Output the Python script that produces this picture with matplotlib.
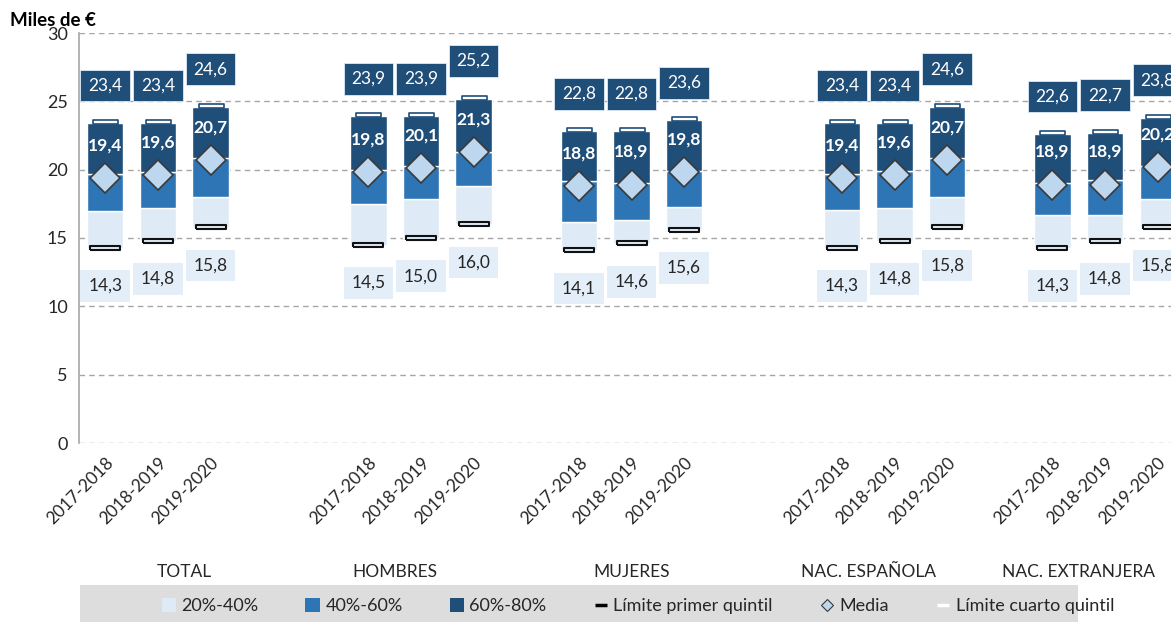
import matplotlib
matplotlib.use("Agg")
import matplotlib.pyplot as plt
from matplotlib.patches import Patch, Rectangle
from matplotlib.lines import Line2D
from matplotlib.transforms import blended_transform_factory
import numpy as np

plt.rcParams['font.family'] = ['Lato', 'DejaVu Sans']

# ---------------- data ----------------
groups = ["TOTAL", "HOMBRES", "MUJERES", "NAC. ESPAÑOLA", "NAC. EXTRANJERA"]
periods = ["2017-2018", "2018-2019", "2019-2020"]

# Límite primer quintil (P20)
q1 = [14.3, 14.8, 15.8,
      14.5, 15.0, 16.0,
      14.1, 14.6, 15.6,
      14.3, 14.8, 15.8,
      14.3, 14.8, 15.8]
# P40 (top of 20%-40% band)
q2 = [16.95, 17.2, 18.0,
      17.5, 17.85, 18.8,
      16.2, 16.35, 17.3,
      17.05, 17.2, 18.0,
      16.65, 16.7, 17.85]
# P60 (top of 40%-60% band)
q3 = [19.65, 19.85, 20.85,
      20.0, 20.25, 21.3,
      19.15, 19.0, 19.9,
      19.7, 19.9, 20.85,
      19.05, 19.25, 20.3]
# Límite cuarto quintil (P80)
q4 = [23.4, 23.4, 24.6,
      23.9, 23.9, 25.2,
      22.8, 22.8, 23.6,
      23.4, 23.4, 24.6,
      22.6, 22.7, 23.8]
# Media
media = [19.4, 19.6, 20.7,
         19.8, 20.1, 21.3,
         18.8, 18.9, 19.8,
         19.4, 19.6, 20.7,
         18.9, 18.9, 20.2]

# ---------------- layout ----------------
slot_x = np.array([0, 1, 2, 5, 6, 7, 9, 10, 11, 14, 15, 16, 18, 19, 20], dtype=float)
group_x = [1.5, 5.5, 10.0, 14.5, 18.5]

c_light = "#DEEBF7"
c_mid = "#2E75B6"
c_dark = "#1F4E79"
c_diam = "#BDD7EE"
c_text = "#262626"

W, H = 1171, 622
fig = plt.figure(figsize=(W / 100, H / 100), dpi=100)
ax = fig.add_axes([79 / W, 1 - 443 / H, (1184 - 79) / W, 410 / H])

q1a, q2a, q3a, q4a, ma = map(np.array, (q1, q2, q3, q4, media))
bw = 0.69
ax.bar(slot_x, q2a - q1a, bottom=q1a, width=bw, color=c_light, edgecolor="white", linewidth=1, zorder=3)
ax.bar(slot_x, q3a - q2a, bottom=q2a, width=bw, color=c_mid, edgecolor="white", linewidth=1, zorder=3)
ax.bar(slot_x, q4a - q3a, bottom=q3a, width=bw, color=c_dark, edgecolor="white", linewidth=1, zorder=3)

# markers for quintil limits: flat rectangles
rect_marker = [(-1, -0.17), (1, -0.17), (1, 0.17), (-1, 0.17), (-1, -0.17)]
ax.plot(slot_x, q1a, linestyle="none", marker=rect_marker, markersize=21,
        markerfacecolor=c_light, markeredgecolor="#111111", markeredgewidth=1.5, zorder=5)
ax.plot(slot_x, q4a + 0.08, linestyle="none", marker=rect_marker, markersize=18,
        markerfacecolor="white", markeredgecolor=c_dark, markeredgewidth=1.2, zorder=5)
ax.plot(slot_x, ma, linestyle="none", marker="D", markersize=15,
        markerfacecolor=c_diam, markeredgecolor="#3a3a3a", markeredgewidth=1.2, zorder=6)

# value labels
for x, a, b, m in zip(slot_x, q1a, q4a, ma):
    ax.text(x, b + 2.75, f"{b:.1f}".replace(".", ","), ha="center", va="center",
            fontsize=12.5, color="white", zorder=7,
            bbox=dict(boxstyle="square,pad=0.45", facecolor=c_dark, edgecolor="#DEEBF7", linewidth=0.6))
    ax.text(x, a - 2.8, f"{a:.1f}".replace(".", ","), ha="center", va="center",
            fontsize=12.5, color=c_text, zorder=7,
            bbox=dict(boxstyle="square,pad=0.45", facecolor="#E4EEF8", edgecolor="none"))
    ax.text(x, m + 2.4, f"{m:.1f}".replace(".", ","), ha="center", va="center",
            fontsize=12.5, color="white", fontweight="bold", zorder=7)

# axes styling
ax.set_xlim(-0.5, 20.5)
ax.set_ylim(0, 30)
ax.set_yticks(np.arange(0, 31, 5))
ax.yaxis.grid(True, linestyle=(0, (4, 3)), color="#A6A6A6", linewidth=1)
ax.set_axisbelow(True)
for s in ("top", "right", "bottom"):
    ax.spines[s].set_visible(False)
ax.spines["left"].set_color("#A6A6A6")
ax.spines["left"].set_linewidth(1.2)
ax.tick_params(axis="y", length=0, labelsize=13, labelcolor=c_text, pad=8)
ax.tick_params(axis="x", length=0, labelsize=12.5, labelcolor=c_text, pad=8)
ax.set_xticks(slot_x)
ax.set_xticklabels(periods * len(groups), rotation=45, ha="right", rotation_mode="anchor")

trans = blended_transform_factory(ax.transData, fig.transFigure)
for gx, g in zip(group_x, groups):
    ax.text(gx, 1 - 572 / H, g, transform=trans, ha="center", va="center",
            fontsize=12.5, color=c_text, clip_on=False)

fig.text(10 / W, 1 - 20 / H, "Miles de €", ha="left", va="center",
         fontsize=13.5, fontweight="bold", color="black")

# legend background
fig.patches.append(Rectangle((80 / W, 0), 998 / W, 37 / H, transform=fig.transFigure,
                             facecolor="#DDDDDD", edgecolor="none", zorder=0))
handles = [
    Patch(facecolor=c_light, edgecolor="none", label="20%-40%"),
    Patch(facecolor=c_mid, edgecolor="none", label="40%-60%"),
    Patch(facecolor=c_dark, edgecolor="none", label="60%-80%"),
    Line2D([], [], linestyle="none", marker="_", markersize=8, markeredgewidth=2.5,
           color="black", label="Límite primer quintil"),
    Line2D([], [], linestyle="none", marker="D", markersize=6, markerfacecolor=c_diam,
           markeredgecolor="#3a3a3a", markeredgewidth=0.8, label="Media"),
    Line2D([], [], linestyle="none", marker="_", markersize=8, markeredgewidth=2.5,
           color="white", label="Límite cuarto quintil"),
]
fig.legend(handles=handles, loc="center", bbox_to_anchor=(638 / W, 1 - 606 / H),
           ncol=6, frameon=False, fontsize=13, handlelength=0.8, handleheight=0.8,
           handletextpad=0.3, columnspacing=2.6, labelcolor=c_text)

fig.savefig("out.png", dpi=100)
